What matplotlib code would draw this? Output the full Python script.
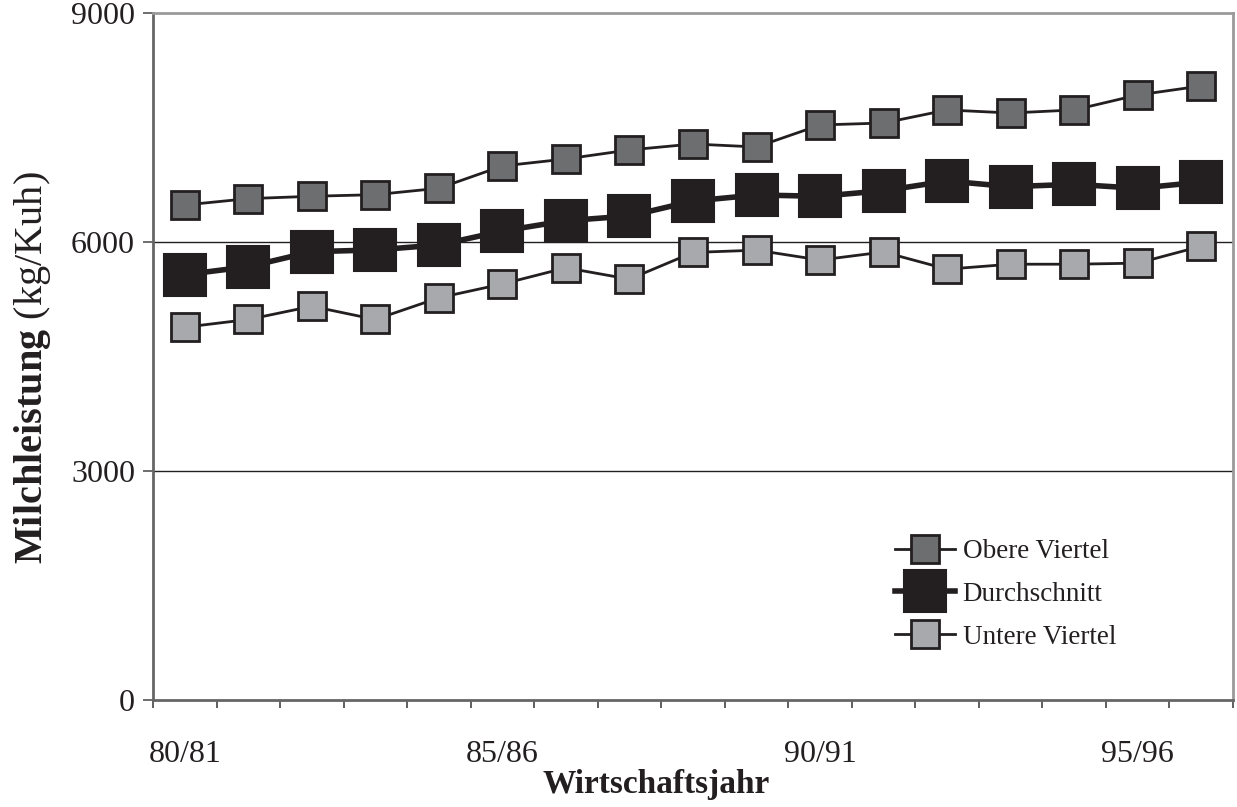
import matplotlib
matplotlib.use('Agg')
import matplotlib.pyplot as plt
from matplotlib.ticker import FixedLocator, NullFormatter

plt.rcParams['font.family'] = ['Liberation Serif', 'DejaVu Serif']
plt.rcParams['mathtext.fontset'] = 'custom'
plt.rcParams['mathtext.rm'] = 'Liberation Serif'
plt.rcParams['mathtext.bf'] = 'Liberation Serif:bold'

# Wirtschaftsjahre 80/81 .. 96/97
jahre = ['80/81', '81/82', '82/83', '83/84', '84/85', '85/86', '86/87', '87/88',
         '88/89', '89/90', '90/91', '91/92', '92/93', '93/94', '94/95', '95/96', '96/97']
obere = [6485, 6568, 6599, 6620, 6704, 6996, 7088, 7206, 7284, 7245,
         7533, 7559, 7730, 7690, 7730, 7926, 8044]
durchschnitt = [5572, 5677, 5873, 5896, 5961, 6144, 6279, 6341, 6537, 6616,
                6599, 6672, 6799, 6725, 6756, 6704, 6784]
untere = [4884, 4985, 5158, 4985, 5269, 5450, 5662, 5513, 5863, 5893,
          5764, 5869, 5644, 5709, 5709, 5723, 5945]
y_ticks = [0, 3000, 6000, 9000]
label_every = 5

dark = '#231f20'
W, H = 1237, 807
fig = plt.figure(figsize=(W / 100, H / 100), dpi=100)
ax = fig.add_axes([153 / W, 1 - 700 / H, 1080 / W, 687 / H])

x = list(range(len(jahre)))
ax.plot(x, obere, color=dark, lw=2.0, marker='s', ms=19.5, mfc='#6d6e70',
        mec=dark, mew=2.0, label='Obere Viertel', zorder=3)
ax.plot(x, durchschnitt, color=dark, lw=4.0, marker='s', ms=30, mfc=dark,
        mec=dark, mew=1.5, label='Durchschnitt', zorder=3)
ax.plot(x, untere, color=dark, lw=2.0, marker='s', ms=19.5, mfc='#a7a9ac',
        mec=dark, mew=2.0, label='Untere Viertel', zorder=3)

ax.set_xlim(-0.5, len(jahre) - 0.5)
ax.set_ylim(0, 9000)

# y axis
ax.set_yticks(y_ticks)
ax.set_yticklabels([str(v) for v in y_ticks])
ax.tick_params(axis='y', direction='out', length=7, width=1.2, color='#555555',
               labelsize=23, pad=6, labelcolor=dark)
for v in y_ticks[1:-1]:
    ax.axhline(v, color=dark, lw=1.0, zorder=1)

# x axis: ticks between categories, labels every 5th year
ax.xaxis.set_major_locator(FixedLocator([i - 0.5 for i in range(len(jahre) + 1)]))
ax.xaxis.set_major_formatter(NullFormatter())
lab_pos = [i for i in x if i % label_every == 0]
ax.xaxis.set_minor_locator(FixedLocator(lab_pos))
ax.set_xticklabels([jahre[i] for i in lab_pos], minor=True)
ax.tick_params(axis='x', which='major', direction='out', length=6, width=1.2,
               color='#444444')
ax.tick_params(axis='x', which='minor', length=0, labelsize=23, pad=28.5,
               labelcolor=dark)

for side in ['left', 'bottom']:
    ax.spines[side].set_color('#666666')
    ax.spines[side].set_linewidth(2.0)
for side in ['top', 'right']:
    ax.spines[side].set_color('#9a9a9a')
    ax.spines[side].set_linewidth(2.0)

fig.text(656 / W, 1 - 785 / H, 'Wirtschaftsjahr', fontsize=24, fontweight='bold',
         ha='center', va='center', color=dark)
fig.text(33 / W, 1 - 368 / H, r'$\mathbf{Milchleistung}$ (kg/Kuh)', fontsize=29,
         rotation=90, ha='center', va='center', color=dark)

ax.legend(loc='upper left', bbox_to_anchor=(895 / W, 1 - 539 / H),
          bbox_transform=fig.transFigure, frameon=False, fontsize=19.5,
          handlelength=2.2, handletextpad=0.3, labelspacing=0.66,
          borderpad=0, borderaxespad=0, labelcolor=dark)

fig.savefig('out.png', dpi=100)
